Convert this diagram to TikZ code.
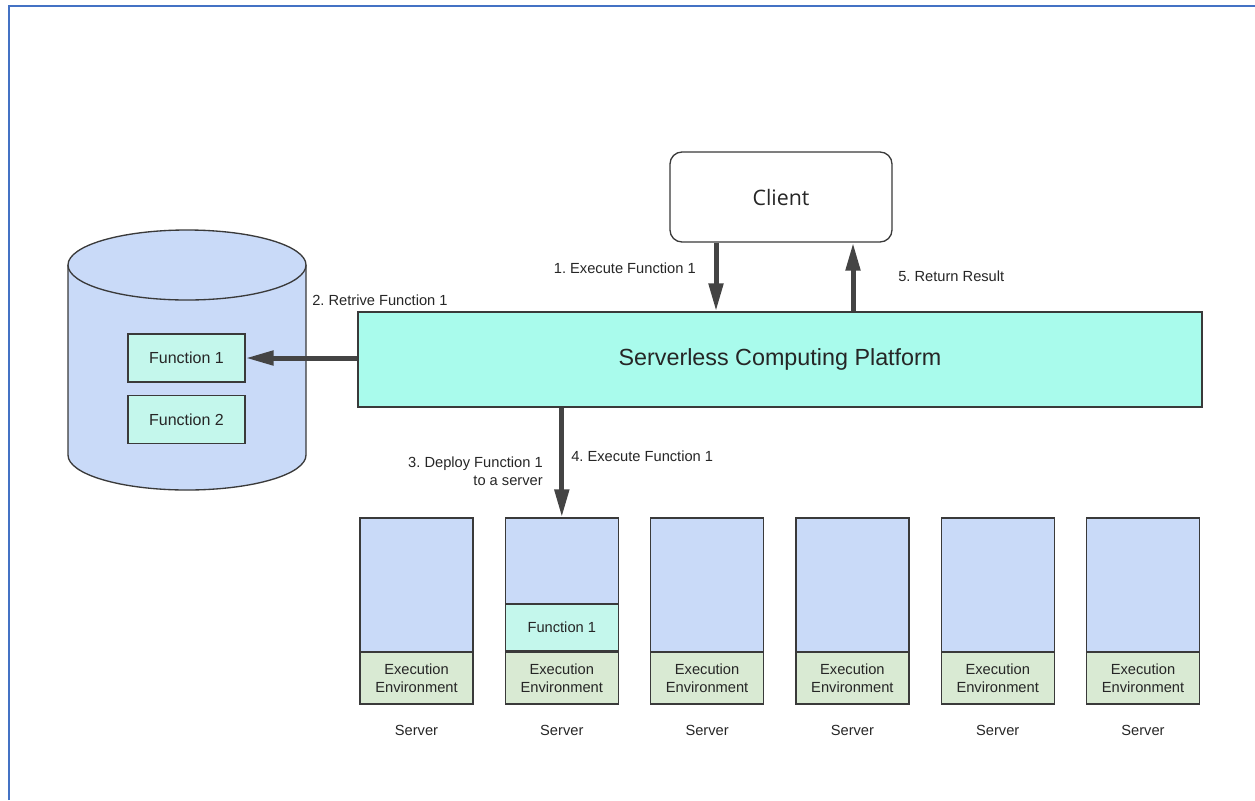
\documentclass[tikz,border=0pt]{standalone}
\usepackage{fontspec}
\setmainfont{Liberation Sans}
\newfontfamily\clientfont{Open Sans}
\usetikzlibrary{arrows.meta,positioning}
\frenchspacing

\definecolor{frameblue}{HTML}{4472C4}
\definecolor{dbblue}{HTML}{C9DAF8}
\definecolor{fncyan}{HTML}{C4F7EC}
\definecolor{platcyan}{HTML}{A9FBEC}
\definecolor{envgreen}{HTML}{D9EAD3}
\definecolor{edge}{HTML}{3A3A3A}
\definecolor{arrowgray}{HTML}{444444}
\definecolor{txt}{HTML}{262626}

\begin{document}
\begin{tikzpicture}[x=0.75pt,y=-0.75pt,
    box/.style={draw=edge,line width=1pt,inner sep=0pt,align=center,text=txt},
    flow/.style={draw=arrowgray,line width=3.75pt,-{Triangle[length=21pt,width=10.5pt]}},
    lbl/.style={font=\fontsize{11}{13.5}\selectfont,text=txt,inner sep=0pt,align=center}]

    \useasboundingbox (0,0) rectangle (1255,800);

    % Page frame
    \draw[frameblue,line width=1.5pt] (9,800) -- (9,6) -- (1255,6);

    % Function store
    \fill[dbblue] (68,265) -- (68,455) arc[start angle=180,end angle=360,x radius=89.25pt,y radius=26.25pt]
        -- (306,265) -- cycle;
    \draw[edge,line width=1pt] (68,265) -- (68,455) arc[start angle=180,end angle=360,x radius=89.25pt,y radius=26.25pt]
        -- (306,265);
    \draw[edge,line width=1pt,fill=dbblue] (187,265) ellipse[x radius=89.25pt,y radius=26.25pt];

    \node[box,fill=fncyan,minimum width=87.75pt,minimum height=36pt,font=\fontsize{12}{14}\selectfont] (fn1) at (186.5,358) {Function 1};
    \node[box,fill=fncyan,minimum width=87.75pt,minimum height=36pt,font=\fontsize{12}{14}\selectfont] (fn2) at (186.5,419.5) {Function 2};

    % Platform and client
    \node[box,fill=platcyan,minimum width=633pt,minimum height=71.25pt,font=\fontsize{17.5}{20}\selectfont] (plat) at (780,359.5) {Serverless Computing Platform};
    \node[box,fill=white,rounded corners=9pt,minimum width=166.5pt,minimum height=67.5pt,font=\clientfont\fontsize{16}{18}\selectfont] (client) at (781,197) {Client};

    % Servers
    \foreach \i in {0,...,5}{
        \pgfmathsetmacro\cx{416.5+145.3*\i}
        \node[box,fill=dbblue,minimum width=84.75pt,minimum height=100.5pt] (srv\i) at (\cx,585) {};
        \node[box,fill=envgreen,minimum width=84.75pt,minimum height=39pt,font=\fontsize{11}{13.5}\selectfont] (env\i) at (\cx,678) {Execution\\Environment};
        \node[lbl] (name\i) at (\cx,730) {Server};
    }
    \node[box,fill=fncyan,minimum width=84.75pt,minimum height=35.25pt,font=\fontsize{11}{13}\selectfont] (dep) at (561.8,627.5) {Function 1};

    % Requests
    \coordinate (callx) at (716,0);
    \coordinate (retx) at (853,0);
    \draw[flow] (client.south -| callx) -- (plat.north -| callx);
    \draw[flow] (plat.north -| retx) -- (client.south -| retx);
    \draw[flow] (plat.west |- fn1) -- (fn1.east);
    \draw[flow] (plat.south -| srv1.north) -- (srv1.north);

    % Step labels
    \node[lbl,anchor=east] (step1) at (696,268) {1. Execute Function 1};
    \node[lbl,anchor=west] (step2) at (312,300) {2. Retrive Function 1};
    \node[lbl,anchor=east,align=right] (step3) at (543,471) {3. Deploy Function 1\\to a server};
    \node[lbl,anchor=west] (step4) at (571,456) {4. Execute Function 1};
    \node[lbl,anchor=west] (step5) at (898,276) {5. Return Result};

\end{tikzpicture}
\end{document}
